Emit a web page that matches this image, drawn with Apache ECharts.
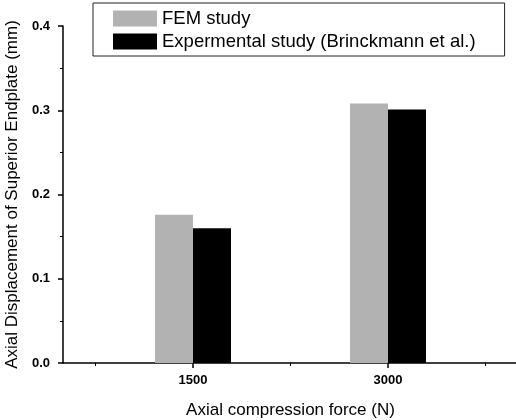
<!DOCTYPE html>
<html>
<head>
<meta charset="utf-8">
<script src="https://cdn.jsdelivr.net/npm/echarts@6/dist/echarts.min.js"></script>
<style>html,body{margin:0;padding:0;background:#fff}#c{width:516px;height:420px}</style>
</head>
<body>
<div id="c"></div>
<script>
var forces = [1500, 3000];
var femValues = [0.176, 0.308];
var expValues = [0.160, 0.301];
var seriesNames = ['FEM study', 'Expermental study (Brinckmann et al.)'];
var xLabelValues = [1500, 3000];
var xMinorValues = [750, 2250, 3750];
var xTitle = 'Axial compression force (N)';
var yTitle = 'Axial Displacement of Superior Endplate (mm)';

var FONT = '"Liberation Sans", Arial, Helvetica, sans-serif';
var chart = echarts.init(document.getElementById('c'), null, {renderer: 'canvas'});

function pairs(vals) { return forces.map(function (f, i) { return [f, vals[i]]; }); }

chart.setOption({
  animation: false,
  backgroundColor: '#fff',
  textStyle: {fontFamily: FONT, color: '#000'},
  grid: {left: 63, top: 26, bottom: 57, right: -2, containLabel: false, outerBoundsMode: 'none'},
  legend: {
    orient: 'vertical', left: 93, top: 3,
    padding: [6, 29, 5, 20],
    icon: 'rect',
    itemWidth: 44, itemHeight: 16, itemGap: 4,
    borderColor: '#222', borderWidth: 1,
    textStyle: {fontFamily: FONT, fontSize: 18.5, color: '#000'},
    data: seriesNames
  },
  xAxis: [{
    type: 'value', min: 500, max: 4000,
    axisLine: {lineStyle: {color: '#000', width: 1.5}},
    splitLine: {show: false},
    axisTick: {show: true, length: 5, customValues: xLabelValues, lineStyle: {color: '#000', width: 1.5}},
    axisLabel: {customValues: xLabelValues, margin: 11, fontSize: 13, fontWeight: 'bold', color: '#000', fontFamily: FONT,
      formatter: function (v) { return String(v); }},
    name: xTitle, nameLocation: 'middle', nameGap: 39,
    nameTextStyle: {fontSize: 17, color: '#000', fontFamily: FONT}
  }, {
    type: 'value', min: 500, max: 4000, position: 'bottom',
    axisLine: {show: false}, splitLine: {show: false},
    axisTick: {show: true, length: 3, customValues: xMinorValues, lineStyle: {color: '#000', width: 1}},
    axisLabel: {show: false}
  }],
  yAxis: {
    type: 'value', min: 0, max: 0.4, interval: 0.1,
    axisLine: {show: true, lineStyle: {color: '#000', width: 1.5}},
    splitLine: {show: false},
    axisTick: {show: true, length: 5, lineStyle: {color: '#000', width: 1.5}},
    minorTick: {show: true, splitNumber: 2, length: 3, lineStyle: {color: '#000', width: 1}},
    axisLabel: {margin: 13, fontSize: 13, fontWeight: 'bold', color: '#000', fontFamily: FONT,
      formatter: function (v) { return v.toFixed(1); }},
    name: yTitle, nameLocation: 'middle', nameGap: 40,
    nameTextStyle: {fontSize: 17, color: '#000', fontFamily: FONT}
  },
  series: [{
    name: seriesNames[0], type: 'bar', xAxisIndex: 0,
    data: pairs(femValues), barWidth: 38, barGap: '0%',
    itemStyle: {color: '#b2b2b2'}
  }, {
    name: seriesNames[1], type: 'bar', xAxisIndex: 0,
    data: pairs(expValues), barWidth: 38, barGap: '0%',
    itemStyle: {color: '#000'}
  }]
});
</script>
</body>
</html>
